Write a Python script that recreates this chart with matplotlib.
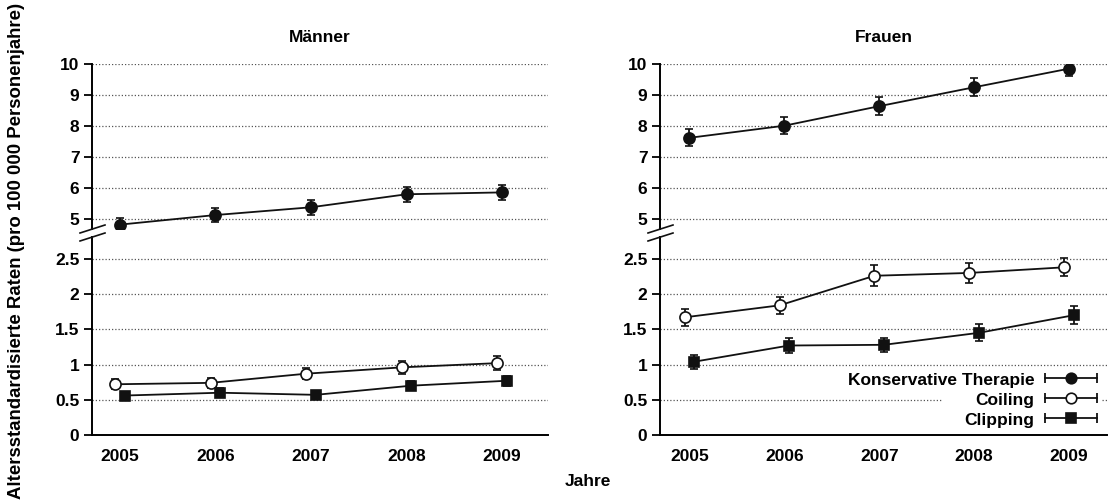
import matplotlib
matplotlib.use("Agg")
import matplotlib.pyplot as plt
from matplotlib.lines import Line2D
from matplotlib.patches import Rectangle
from matplotlib.legend_handler import HandlerLine2D, HandlerTuple
from matplotlib.ticker import FormatStrFormatter
import numpy as np

plt.rcParams['font.family'] = ['Liberation Sans', 'DejaVu Sans']
plt.rcParams['font.weight'] = 'bold'

# ---- data ----
years = [2005, 2006, 2007, 2008, 2009]
series_names = ["Konservative Therapie", "Coiling", "Clipping"]

men_konservativ = [4.82, 5.13, 5.38, 5.80, 5.86]
men_konservativ_err = [0.22, 0.24, 0.24, 0.25, 0.25]
men_coiling = [0.72, 0.74, 0.87, 0.96, 1.02]
men_coiling_err = [0.07, 0.07, 0.08, 0.09, 0.10]
men_clipping = [0.56, 0.60, 0.57, 0.70, 0.77]
men_clipping_err = [0.05, 0.06, 0.05, 0.06, 0.07]

women_konservativ = [7.62, 8.01, 8.64, 9.25, 9.85]
women_konservativ_err = [0.27, 0.28, 0.29, 0.29, 0.25]
women_coiling = [1.67, 1.84, 2.26, 2.30, 2.38]
women_coiling_err = [0.12, 0.12, 0.15, 0.14, 0.13]
women_clipping = [1.04, 1.27, 1.28, 1.45, 1.70]
women_clipping_err = [0.10, 0.10, 0.10, 0.12, 0.13]

upper_ticks = [5, 6, 7, 8, 9, 10]
lower_ticks = [0, 0.5, 1, 1.5, 2, 2.5]

panel_titles = ["Männer", "Frauen"]
xlabel = "Jahre"
ylabel = "Altersstandardisierte Raten (pro 100 000 Personenjahre)"

# ---- layout ----
W, H = 1108, 504
fig = plt.figure(figsize=(W / 100, H / 100), dpi=100)

def fx(px):
    return px / W

def fy(py):
    return 1 - py / H

panels = [
    dict(x0=92, x1=548, xlim=(2004.71, 2009.48),
         data=[(men_konservativ, men_konservativ_err),
               (men_coiling, men_coiling_err),
               (men_clipping, men_clipping_err)]),
    dict(x0=660, x1=1107, xlim=(2004.69, 2009.40),
         data=[(women_konservativ, women_konservativ_err),
               (women_coiling, women_coiling_err),
               (women_clipping, women_clipping_err)]),
]

up_top, up_bot = 64, 229
lo_top, lo_bot = 237, 435

styles = [
    dict(marker='o', mfc='#111111', ms=8, offset=0.0, axis='upper'),
    dict(marker='o', mfc='white', ms=8, offset=-0.05, axis='lower'),
    dict(marker='s', mfc='#111111', ms=7.5, offset=0.05, axis='lower'),
]

grid_kw = dict(color='#555555', linestyle=(0, (1, 1.6)), linewidth=0.9)
fs = 12.5

axes_lower = []
for pi, p in enumerate(panels):
    wpx = p['x1'] - p['x0']
    ax_u = fig.add_axes([fx(p['x0']), fy(up_bot), fx(wpx), (up_bot - up_top) / H])
    ax_l = fig.add_axes([fx(p['x0']), fy(lo_bot), fx(wpx), (lo_bot - lo_top) / H])
    axes_lower.append(ax_l)

    ax_u.set_ylim(4.68, 10.0)
    ax_l.set_ylim(0, 2.81)
    for ax in (ax_u, ax_l):
        ax.set_xlim(*p['xlim'])
        ax.spines['top'].set_visible(False)
        ax.spines['right'].set_visible(False)
        ax.spines['left'].set_linewidth(1.4)
        ax.tick_params(axis='y', direction='out', length=6, width=1.3,
                       labelsize=fs, pad=3)
        ax.set_axisbelow(True)
        ax.yaxis.grid(True, **grid_kw)
        ax.yaxis.set_major_formatter(FormatStrFormatter('%g'))
    ax_u.spines['bottom'].set_visible(False)
    ax_u.set_xticks([])
    ax_u.set_yticks(upper_ticks)
    ax_l.set_yticks(lower_ticks)
    ax_l.spines['bottom'].set_linewidth(1.4)
    ax_l.set_xticks(years)
    ax_l.tick_params(axis='x', length=0, labelsize=fs, pad=10)

    for (vals, errs), st in zip(p['data'], styles):
        ax = ax_u if st['axis'] == 'upper' else ax_l
        xs = np.array(years) + st['offset']
        ax.errorbar(xs, vals, yerr=errs, fmt='-', marker=st['marker'],
                    color='#111111', mfc=st['mfc'], mec='#111111', mew=1.2,
                    ms=st['ms'], lw=1.3, elinewidth=1.3, capsize=3.2,
                    capthick=1.3, zorder=3)

    # break marks on the y-axis
    ax_x = p['x0']
    for yb in (up_bot, lo_top):
        fig.add_artist(Line2D([fx(ax_x - 12), fx(ax_x + 13)],
                              [fy(yb + 4), fy(yb - 4)],
                              transform=fig.transFigure, color='#111111',
                              lw=1.2))

    fig.text(fx((p['x0'] + p['x1']) / 2), fy(37), panel_titles[pi],
             ha='center', va='center', fontsize=fs, fontweight='bold')

fig.text(fx(588), fy(482), xlabel, ha='center', va='center',
         fontsize=fs, fontweight='bold')
fig.text(fx(17), fy(251), ylabel, ha='center', va='center', rotation=90,
         fontsize=13.4, fontweight='bold')

# white area behind the legend (hides the grid line there)
axr = axes_lower[1]
bx0, bx1, by0, by1 = 943, 1101, 428, 389
axr.add_patch(Rectangle(((bx0 - 660) / 447, (435 - by0) / 198),
                        (bx1 - bx0) / 447, (by0 - by1) / 198,
                        transform=axr.transAxes, facecolor='white',
                        edgecolor='none', zorder=1))

# ---- legend ----
handles = []
handler_map = {}
for st in styles:
    cap = Line2D([], [], color='#111111', lw=1.3, marker='|', ms=7, mew=1.3)
    mk = Line2D([], [], color='#111111', ls='None', marker=st['marker'],
                mfc=st['mfc'], mec='#111111', mew=1.2, ms=st['ms'] * 0.95)
    handler_map[cap] = HandlerLine2D(numpoints=2, marker_pad=0)
    handler_map[mk] = HandlerLine2D(numpoints=1)
    handles.append((cap, mk))
handler_map[tuple] = HandlerTuple(ndivide=1)

leg = axr.legend(handles, series_names, handler_map=handler_map,
                 loc='lower right', bbox_to_anchor=(0.985, 0.02),
                 markerfirst=False, frameon=False,
                 fontsize=fs, handlelength=3.0, handletextpad=0.6,
                 labelspacing=0.28, borderpad=0.2, borderaxespad=0)
leg.set_zorder(5)

fig.savefig("out.png", dpi=100)
